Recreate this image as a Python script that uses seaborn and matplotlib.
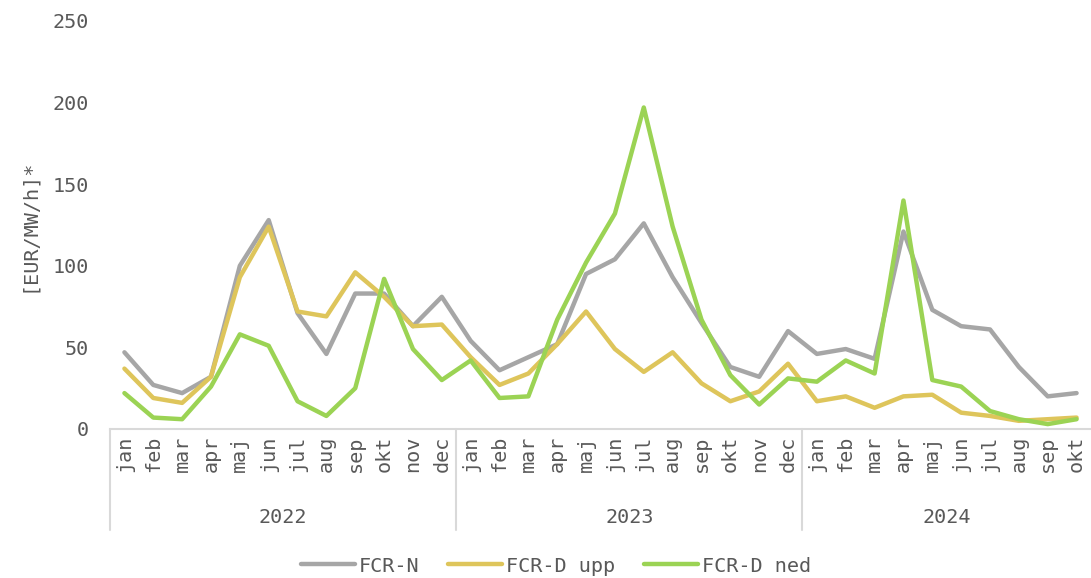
import matplotlib
matplotlib.use("Agg")
import matplotlib.pyplot as plt
import matplotlib.transforms as mtransforms
import numpy as np
import pandas as pd
import seaborn as sns

# Monthly prices per product, jan 2022 - okt 2024
years = ["2022", "2023", "2024"]
months_per_year = [12, 12, 10]
month_names = ["jan", "feb", "mar", "apr", "maj", "jun",
               "jul", "aug", "sep", "okt", "nov", "dec"]

fcr_n = [47, 27, 22, 32, 100, 128, 71, 46, 83, 83, 63, 81,
         54, 36, 44, 52, 95, 104, 126, 93, 65, 38, 32, 60,
         46, 49, 43, 121, 73, 63, 61, 38, 20, 22]
fcr_d_upp = [37, 19, 16, 32, 93, 124, 72, 69, 96, 81, 63, 64,
             44, 27, 34, 52, 72, 49, 35, 47, 28, 17, 23, 40,
             17, 20, 13, 20, 21, 10, 8, 5, 6, 7]
fcr_d_ned = [22, 7, 6, 26, 58, 51, 17, 8, 25, 92, 49, 30,
             42, 19, 20, 67, 102, 132, 197, 124, 67, 33, 15, 31,
             29, 42, 34, 140, 30, 26, 11, 6, 3, 6]

series_names = ["FCR-N", "FCR-D upp", "FCR-D ned"]
series_colors = ["#A6A6A6", "#DEC55B", "#9BD354"]
y_ticks = [0, 50, 100, 150, 200, 250]
y_label = "[EUR/MW/h]*"

month_labels = [m for n in months_per_year for m in month_names[:n]]
n_points = len(month_labels)
idx = np.arange(n_points)

df = pd.DataFrame({
    "idx": np.tile(idx, 3),
    "value": fcr_n + fcr_d_upp + fcr_d_ned,
    "serie": np.repeat(series_names, n_points),
})

text_color = "#595959"
axis_color = "#D9D9D9"
font = "DejaVu Sans Mono"

sns.set_theme(style="white")
plt.rcParams["font.family"] = [font, "DejaVu Sans"]

fig = plt.figure(figsize=(10.91, 5.78), dpi=100)
ax = fig.add_axes([110 / 1091, 1 - 429 / 578, 1 - 110 / 1091, (429 - 21) / 578])

sns.lineplot(data=df, x="idx", y="value", hue="serie", hue_order=series_names,
             palette=series_colors, linewidth=3.2, ax=ax,
             solid_capstyle="round", solid_joinstyle="round")

handles, labels = ax.get_legend_handles_labels()
ax.get_legend().remove()

ax.set_xlim(-0.5, n_points - 0.5)
ax.set_ylim(0, 250)
ax.set_yticks(y_ticks)
ax.set_yticklabels([str(v) for v in y_ticks], fontsize=14.5, color=text_color)
ax.set_xticks(idx)
ax.set_xticklabels(month_labels, rotation=90, fontsize=14.5, color=text_color,
                   va="top", ha="center")
ax.tick_params(axis="both", length=0)
ax.tick_params(axis="x", pad=5)
ax.tick_params(axis="y", pad=15)
ax.set_xlabel("")
ax.set_ylabel(y_label, fontsize=14.5, color=text_color, labelpad=11)

for side in ["left", "right", "top"]:
    ax.spines[side].set_visible(False)
ax.spines["bottom"].set_color(axis_color)
ax.spines["bottom"].set_linewidth(1.5)

# year groups beneath the month labels
trans = mtransforms.blended_transform_factory(ax.transData, ax.transAxes)
bounds = np.concatenate([[0], np.cumsum(months_per_year)]) - 0.5
for i, year in enumerate(years):
    center = (bounds[i] + bounds[i + 1]) / 2
    ax.text(center, -0.216, year, transform=trans, ha="center", va="center",
            fontsize=14.5, color=text_color)
for b in bounds[:-1]:
    ax.plot([b, b], [0, -0.248], transform=trans, color=axis_color,
            linewidth=1.5, clip_on=False)

leg = fig.legend(handles, labels, loc="center", bbox_to_anchor=(556 / 1091, 1 - 566 / 578),
                 ncol=3, frameon=False, fontsize=14.5, handlelength=2.7,
                 handletextpad=0.2, columnspacing=1.4)
for h in leg.get_lines():
    h.set_linewidth(3.2)
for t in leg.get_texts():
    t.set_color(text_color)

fig.savefig("out.png", dpi=100)
